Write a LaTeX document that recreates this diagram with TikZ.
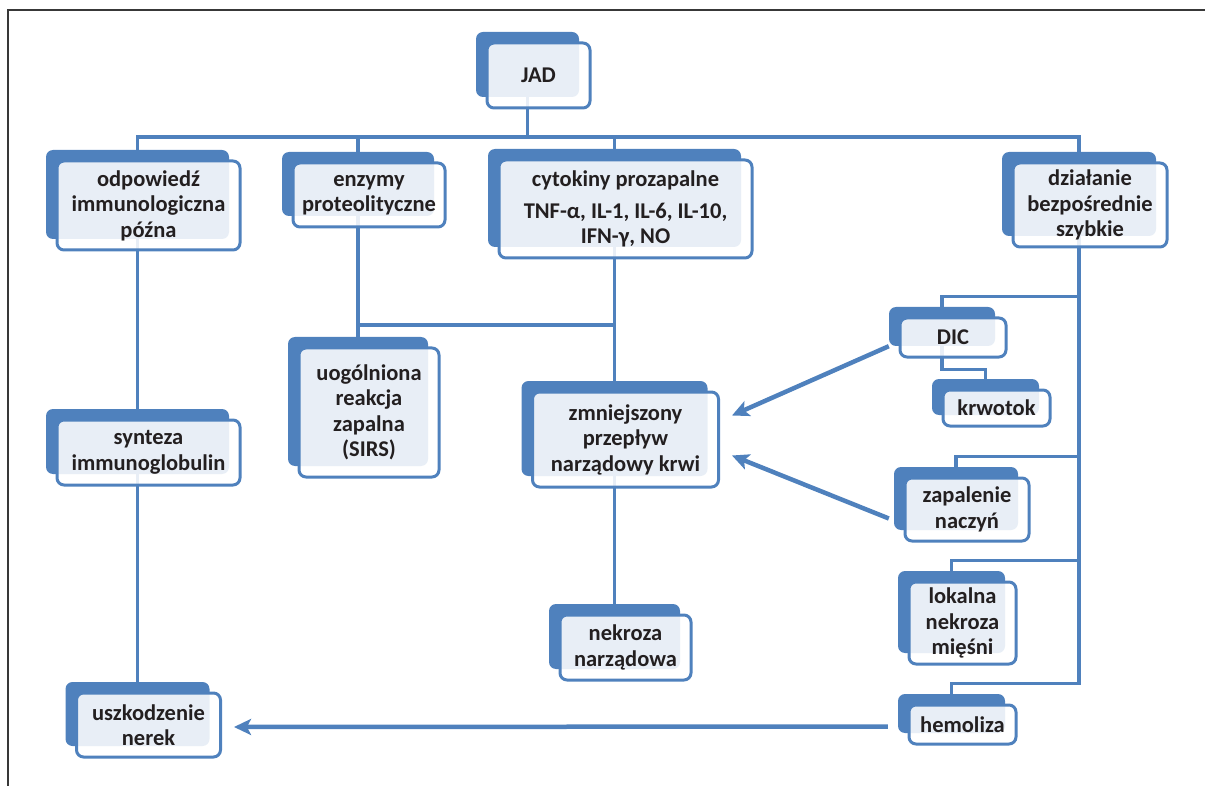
\documentclass[tikz,border=0pt]{standalone}
\usepackage{fontspec}
\setmainfont{Carlito}
\usepackage{tikz}
\usetikzlibrary{calc}
\usetikzlibrary{arrows.meta}
\definecolor{jblue}{HTML}{4F81BD}
\definecolor{jtext}{HTML}{231F20}
\tikzset{back/.style={fill=jblue, rounded corners=7pt, inner sep=0pt}}
\tikzset{front/.style={draw=jblue, line width=3pt, fill=white, fill opacity=0.87, text opacity=1, rounded corners=7pt, inner sep=0pt, align=center, text=jtext, font=\bfseries\fontsize{22.5}{25.5}\selectfont, xshift=11pt, yshift=-11pt}}
\tikzset{boxsize/.style 2 args={minimum width=#1pt, minimum height=#2pt}}
\tikzset{link/.style={draw=jblue, line width=3.2pt}}
\tikzset{arrow/.style={draw=jblue, line width=4.5pt, -{Stealth[length=17pt, width=16pt, inset=4pt]}}}
\begin{document}
\begin{tikzpicture}[x=1pt, y=-1pt]

\useasboundingbox (0,0) rectangle (1205,786);
\draw [line width=1.5pt, black!78] (1205,10) -- (8,10) -- (8,786);

% back plates
\node [back, boxsize={103}{65}] (jad-b) at (527.5,64.5) {};
\node [back, boxsize={183}{89}] (odp-b) at (137.5,194.5) {};
\node [back, boxsize={152}{64}] (enz-b) at (358,184) {};
\node [back, boxsize={253}{98}] (cyt-b) at (614.5,198) {};
\node [back, boxsize={154}{84}] (dzi-b) at (1079,194) {};
\node [back, boxsize={183}{65}] (syn-b) at (137.5,441.5) {};
\node [back, boxsize={140}{129}] (sirs-b) at (358,401.5) {};
\node [back, boxsize={186}{95}] (zmn-b) at (614.5,428.5) {};
\node [back, boxsize={131}{65}] (nek-b) at (614.5,636.5) {};
\node [back, boxsize={106}{39}] (dic-b) at (942,326.5) {};
\node [back, boxsize={107}{36}] (krw-b) at (985.5,397) {};
\node [back, boxsize={124}{63}] (zap-b) at (956,498.5) {};
\node [back, boxsize={107}{82}] (lok-b) at (951.5,612) {};
\node [back, boxsize={107}{39}] (hem-b) at (951.5,713.5) {};
\node [back, boxsize={144}{64}] (usz-b) at (137.5,714) {};

% links
\coordinate (bus) at (0,137);
\coordinate (mid) at (0,325);
\draw [link] (jad-b.south) -- (jad-b.south |- bus);
\draw [link] (odp-b.north) |- (bus -| dzi-b.north) -- (dzi-b.north);
\draw [link] (enz-b.north) -- (enz-b.north |- bus);
\draw [link] (cyt-b.north) -- (cyt-b.north |- bus);

\draw [link] (odp-b.south) -- (syn-b.north);
\draw [link] (syn-b.south) -- (usz-b.north);

\draw [link] (enz-b.south) -- (sirs-b.north);
\draw [link] (enz-b.south |- mid) -- (cyt-b.south |- mid);
\draw [link] (cyt-b.south) -- (zmn-b.north);
\draw [link] (zmn-b.south) -- (nek-b.north);

\foreach \b in {dic,zap,lok,hem} {\draw [link] (\b-b.north) -- ++(0,-10) -| (dzi-b.south);}
\draw [link] (dic-b.south) -- ++(0,23) -| (krw-b.north);

% front boxes
\node [front, boxsize={103}{65}] (jad) at (jad-b) {JAD};
\node [front, boxsize={183}{89}] (odp) at (odp-b) {odpowiedź\\immunologiczna\\późna};
\node [front, boxsize={152}{64}] (enz) at (enz-b) {enzymy\\proteolityczne};
\node [front, boxsize={253}{98}] (cyt) at (cyt-b) {cytokiny prozapalne\\[6pt]TNF-α, IL-1, IL-6, IL-10,\\IFN-γ, NO};
\node [front, boxsize={154}{84}] (dzi) at (dzi-b) {działanie\\bezpośrednie\\szybkie};
\node [front, boxsize={183}{65}] (syn) at (syn-b) {synteza\\immunoglobulin};
\node [front, boxsize={140}{129}] (sirs) at (sirs-b) {uogólniona\\reakcja\\zapalna\\(SIRS)};
\node [front, boxsize={186}{95}] (zmn) at (zmn-b) {zmniejszony\\przepływ\\narządowy krwi};
\node [front, boxsize={131}{65}] (nek) at (nek-b) {nekroza\\narządowa};
\node [front, boxsize={106}{39}] (dic) at (dic-b) {DIC};
\node [front, boxsize={107}{36}] (krw) at (krw-b) {krwotok};
\node [front, boxsize={124}{63}] (zap) at (zap-b) {zapalenie\\naczyń};
\node [front, boxsize={107}{82}] (lok) at (lok-b) {lokalna\\nekroza\\mięśni};
\node [front, boxsize={107}{39}] (hem) at (hem-b) {hemoliza};
\node [front, boxsize={144}{64}] (usz) at (usz-b) {uszkodzenie\\nerek};

% arrows
\draw [arrow] (dic-b.south west) -- ([shift={(12,-24)}]zmn.east);
\draw [arrow] ([shift={(-5,20)}]zap-b.west) -- ([shift={(12,16)}]zmn.east);
\draw [arrow] ([shift={(-10,13)}]hem-b.west) -- ([shift={(12,2)}]usz.east);

\end{tikzpicture}
\end{document}
